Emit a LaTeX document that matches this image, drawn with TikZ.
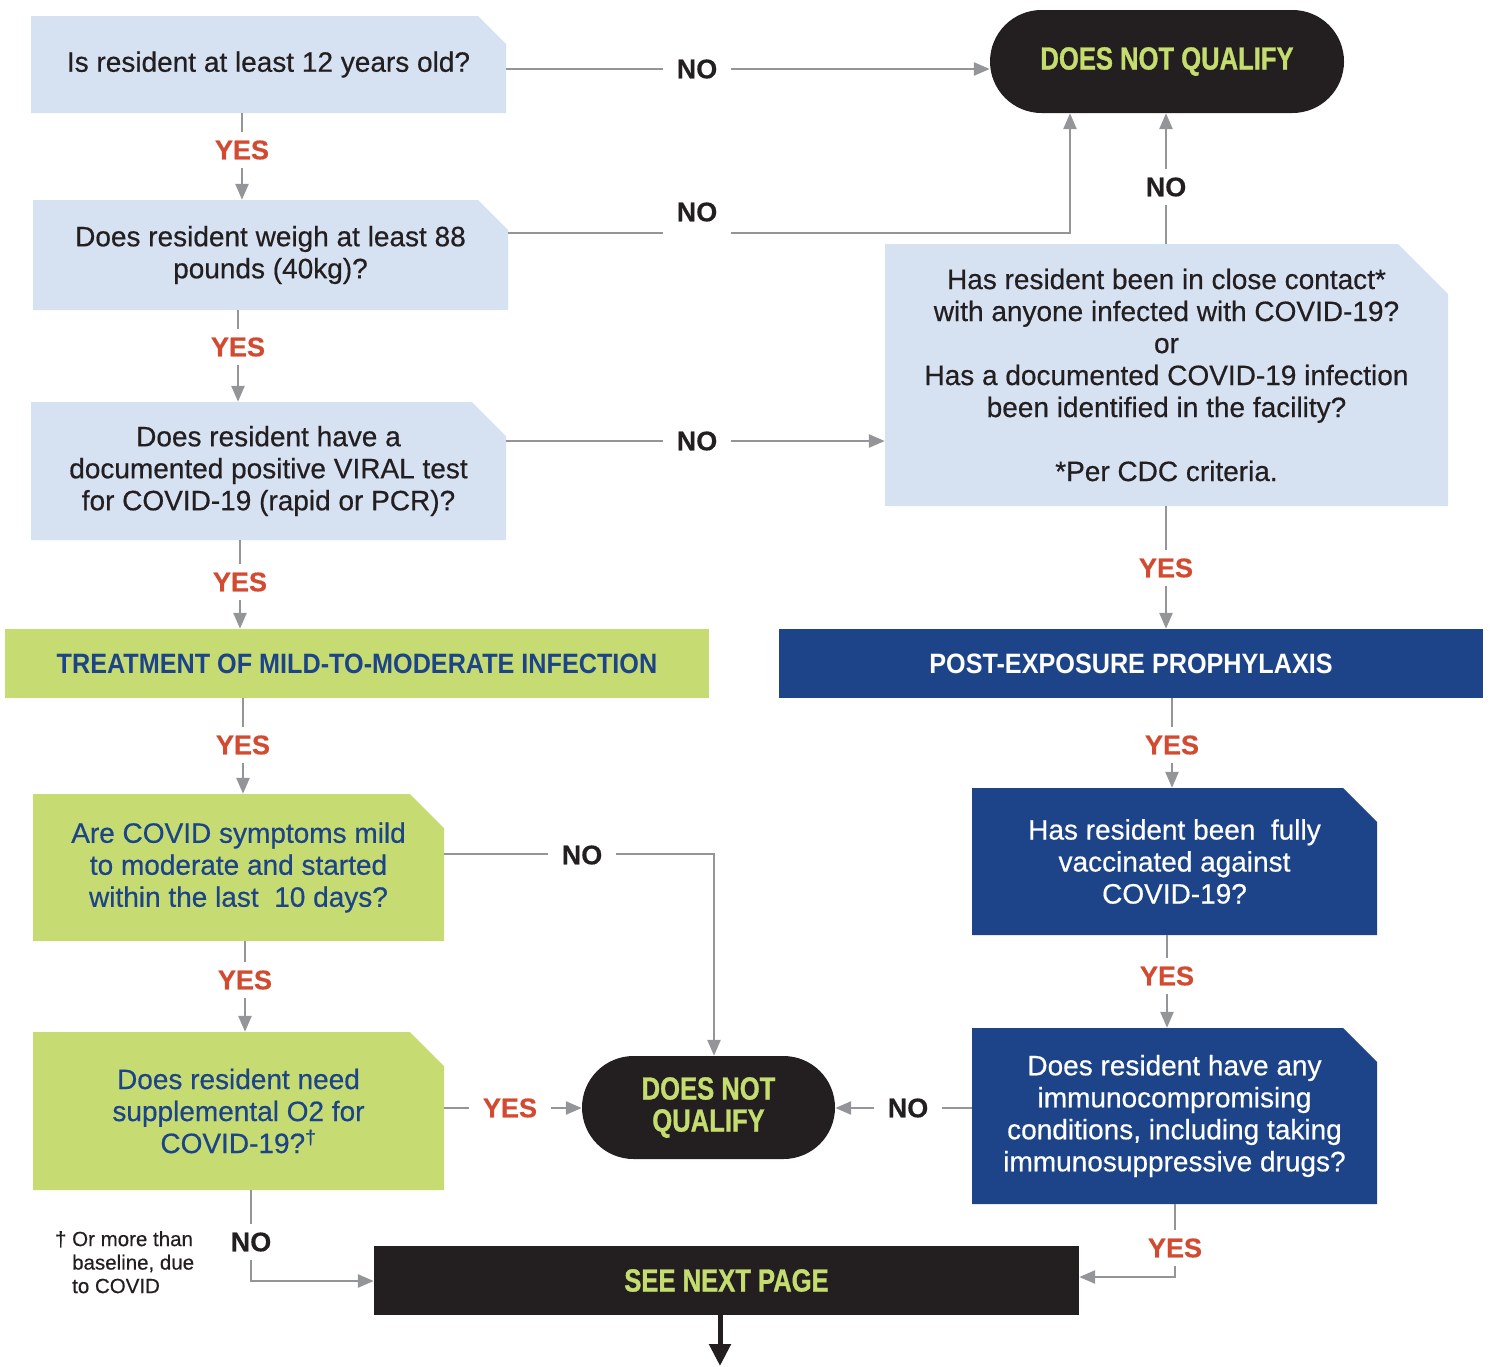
\documentclass[tikz,border=0pt]{standalone}
\usepackage{fontspec}
\setmainfont{Liberation Sans}[FakeBold=0.5]
\newfontfamily\condfont{Liberation Sans}[FakeStretch=0.9]
\newfontfamily\heavyfont{Liberation Sans Bold}[FakeStretch=0.8,FakeBold=1]
\usetikzlibrary{arrows.meta,positioning,shapes.misc}
\definecolor{qblue}{HTML}{D6E2F2}
\definecolor{qgreen}{HTML}{C6DC72}
\definecolor{navy}{HTML}{1D4489}
\definecolor{inkblack}{HTML}{231F20}
\definecolor{linegray}{HTML}{939598}
\definecolor{yesred}{HTML}{D24A30}
\definecolor{limetext}{HTML}{C5DC6F}
\tikzset{
  ear/.style 2 args={path picture={\fill[#1] (path picture bounding box.south west) -- (path picture bounding box.north west)
      -- ([xshift=-#2]path picture bounding box.north east) -- ([yshift=-#2]path picture bounding box.north east)
      -- (path picture bounding box.south east) -- cycle;}},
  qbox/.style n args={4}{minimum width=#1,minimum height=#2,ear={#3}{#4}},
}
\begin{document}
\begin{tikzpicture}[x=1pt,y=-1pt,every node/.style={align=center,inner sep=0pt,font=\fontsize{28}{32}\selectfont},
    yes/.style={text=yesred,font=\bfseries\fontsize{27}{30}\selectfont,inner xsep=14pt,inner ysep=8pt},
    no/.style={yes,text=inkblack},
    conn/.style={draw=linegray,line width=2.6pt},
    arr/.style={conn,-{Triangle[length=16pt,width=13pt]}},
    pill/.style={rounded rectangle,fill=inkblack,text=limetext,font=\heavyfont\fontsize{32}{32}\selectfont},
    bar/.style={minimum width=704pt,minimum height=69pt,font=\condfont\bfseries\fontsize{28}{30}\selectfont}]
\useasboundingbox (0,0) rectangle (1491,1366);
% left column
\node[qbox={475pt}{97pt}{qblue}{28pt},text=inkblack] (age) at (268.5,64.5) {Is resident at least 12 years old?};
\node[qbox={475pt}{110pt}{qblue}{30pt},text=inkblack] (weight) at (270.5,255) {Does resident weigh at least 88\\pounds (40kg)?};
\node[qbox={475pt}{138pt}{qblue}{34pt},text=inkblack] (viral) at (268.5,471) {Does resident have a\\documented positive VIRAL test\\for COVID-19 (rapid or PCR)?};
\node[bar,fill=qgreen,text=navy] (treat) at (357,663.5) {TREATMENT OF MILD-TO-MODERATE INFECTION};
\node[qbox={411pt}{147pt}{qgreen}{34pt},text=navy] (mild) at (238.5,867.5) {Are COVID symptoms mild\\to moderate and started\\within the last\ \ 10 days?};
\node[qbox={411pt}{158pt}{qgreen}{34pt},text=navy] (oxygen) at (238.5,1111) {Does resident need\\supplemental O2 for\\COVID-19?\textsuperscript{†}};
% right column
\node[pill,minimum width=354pt,minimum height=103pt] (dnq1) at (1167,61.5) {DOES NOT QUALIFY};
\node[qbox={563pt}{262pt}{qblue}{50pt},text=inkblack] (contact) at (1166.5,375) {Has resident been in close contact*\\with anyone infected with COVID-19?\\or\\Has a documented COVID-19 infection\\been identified in the facility?\\[32pt]*Per CDC criteria.};
\node[bar,fill=navy,text=white] (pep) at (1131,663.5) {POST-EXPOSURE PROPHYLAXIS};
\node[qbox={405pt}{147pt}{navy}{34pt},text=white] (vacc) at (1174.5,861.5) {Has resident been\ \ fully\\vaccinated against\\COVID-19?};
\node[qbox={405pt}{176pt}{navy}{34pt},text=white] (immune) at (1174.5,1116) {Does resident have any\\immunocompromising\\conditions, including taking\\immunosuppressive drugs?};
\node[pill,minimum width=253pt,minimum height=103pt] (dnq2) at (708.5,1107.5) {DOES NOT\\QUALIFY};
\node[fill=inkblack,text=limetext,font=\heavyfont\fontsize{32}{32}\selectfont,minimum width=705pt,minimum height=69pt] (next) at (726.5,1280.5) {SEE NEXT PAGE};
\node[anchor=north west,align=left,text=inkblack,font=\fontsize{20.5}{23.5}\selectfont] (dagnote) at (72,1231) {\llap{† }Or more than\\baseline, due\\to COVID};
% labels
\node[no] (no1) at (697,69) {NO};
\node[no] (no2) at (697,212) {NO};
\node[no] (no3) at (697,441) {NO};
\node[no] (no4) at (1166,187) {NO};
\node[no] (no5) at (582,855) {NO};
\node[no] (no6) at (908,1108) {NO};
\node[no] (no7) at (251,1242) {NO};
\node[yes] (yes1) at (242,150) {YES};
\node[yes] (yes2) at (238,347) {YES};
\node[yes] (yes3) at (240,582) {YES};
\node[yes] (yes4) at (1166,568) {YES};
\node[yes] (yes5) at (243,745) {YES};
\node[yes] (yes6) at (1172,745) {YES};
\node[yes] (yes7) at (245,980) {YES};
\node[yes] (yes8) at (510,1108) {YES};
\node[yes] (yes9) at (1167,976) {YES};
\node[yes] (yes10) at (1175,1248) {YES};
\coordinate (j2) at (1070,233);
\coordinate (j5) at (714,854);
\coordinate (j7) at (251,1281);
\coordinate (j10) at (1175,1277);
\coordinate (pagebottom) at (720,1366);
% connectors
\draw[conn] (age.east |- no1) -- (no1);
\draw[arr] (no1) -- (dnq1.west |- no1);
\draw[conn] (yes1 |- age.south) -- (yes1);
\draw[arr] (yes1) -- (yes1 |- weight.north);
\draw[conn] (weight.east |- j2) -- (no2.west |- j2);
\draw[arr] (no2.east |- j2) -- (j2) -- (j2 |- dnq1.south);
\draw[conn] (yes2 |- weight.south) -- (yes2);
\draw[arr] (yes2) -- (yes2 |- viral.north);
\draw[conn] (viral.east |- no3) -- (no3);
\draw[arr] (no3) -- (contact.west |- no3);
\draw[conn] (no4 |- contact.north) -- (no4);
\draw[arr] (no4) -- (no4 |- dnq1.south);
\draw[conn] (yes3 |- viral.south) -- (yes3);
\draw[arr] (yes3) -- (yes3 |- treat.north);
\draw[conn] (yes4 |- contact.south) -- (yes4);
\draw[arr] (yes4) -- (yes4 |- pep.north);
\draw[conn] (yes5 |- treat.south) -- (yes5);
\draw[arr] (yes5) -- (yes5 |- mild.north);
\draw[conn] (yes6 |- pep.south) -- (yes6);
\draw[arr] (yes6) -- (yes6 |- vacc.north);
\draw[conn] (mild.east |- j5) -- (no5.west |- j5);
\draw[arr] (no5.east |- j5) -- (j5) -- (j5 |- dnq2.north);
\draw[conn] (yes7 |- mild.south) -- (yes7);
\draw[arr] (yes7) -- (yes7 |- oxygen.north);
\draw[conn] (oxygen.east |- yes8) -- (yes8);
\draw[arr] (yes8) -- (dnq2.west |- yes8);
\draw[conn] (immune.west |- no6) -- (no6);
\draw[arr] (no6) -- (dnq2.east |- no6);
\draw[conn] (yes9 |- vacc.south) -- (yes9);
\draw[arr] (yes9) -- (yes9 |- immune.north);
\draw[conn] (no7 |- oxygen.south) -- (no7);
\draw[arr] (no7) -- (j7) -- (next.west |- j7);
\draw[conn] (yes10 |- immune.south) -- (yes10);
\draw[arr] (yes10) -- (j10) -- (next.east |- j10);
\draw[line width=5pt,inkblack,-{Triangle[length=22pt,width=21pt]}] (next.south -| pagebottom) -- (pagebottom);
\end{tikzpicture}
\end{document}
